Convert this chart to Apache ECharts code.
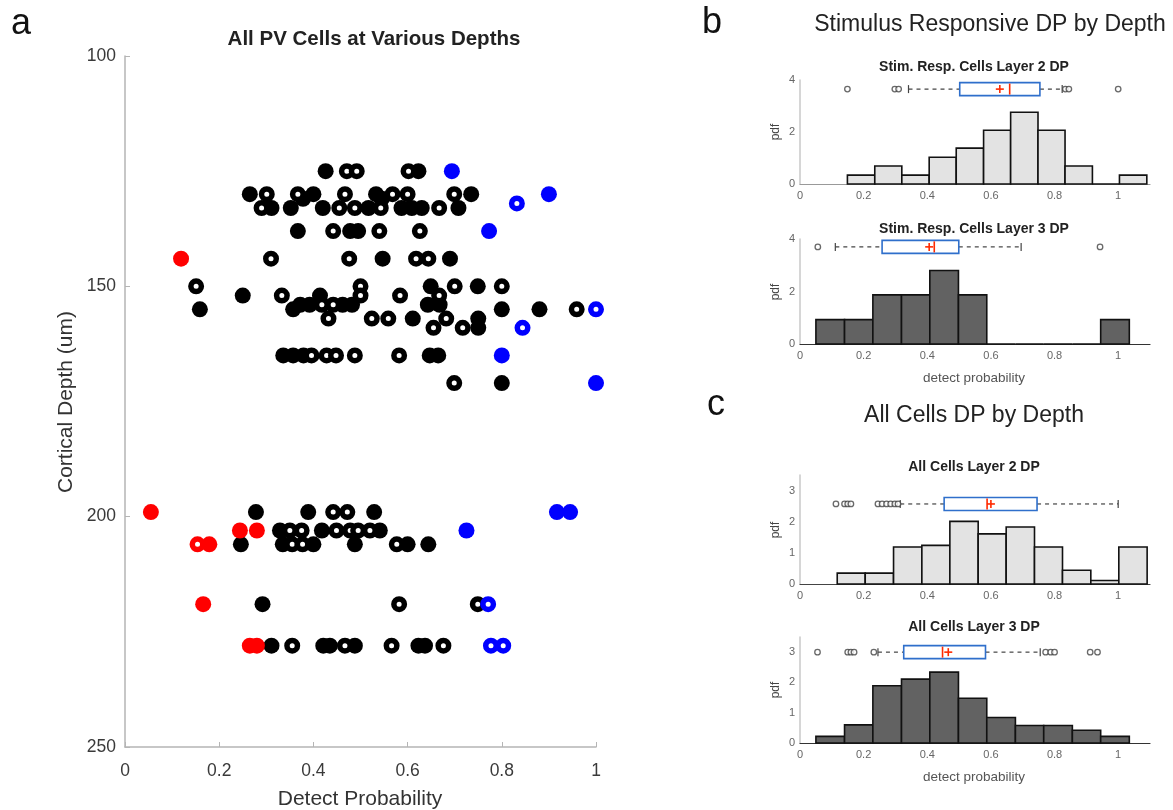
<!DOCTYPE html>
<html><head><meta charset="utf-8">
<script src="https://cdn.jsdelivr.net/npm/echarts@6/dist/echarts.min.js"></script>
<style>html,body{margin:0;padding:0;background:#fff}#c{width:1173px;height:810px}</style>
</head><body><div id="c"></div>
<script>
const FONT = '"Liberation Sans", Arial, sans-serif';

// ---- Panel a: [detect probability, cortical depth (um)] ----
const blackFilled = [
  [0.426,125],[0.623,125],
  [0.265,130],[0.400,130],[0.533,130],[0.735,130],[0.378,131],[0.545,131],
  [0.311,133],[0.352,133],[0.420,133],[0.517,133],[0.587,133],[0.609,133],[0.630,133],[0.708,133],
  [0.367,138],[0.478,138],[0.495,138],
  [0.547,144],[0.690,144],
  [0.649,150],[0.749,150],
  [0.250,152],[0.414,152],
  [0.372,154],[0.392,154],[0.462,154],[0.482,154],[0.643,154],[0.668,154],
  [0.159,155],[0.357,155],[0.800,155],[0.880,155],
  [0.611,157],[0.750,157],
  [0.750,159],
  [0.336,165],[0.357,165],[0.379,165],[0.647,165],[0.665,165],
  [0.800,171],
  [0.278,199],[0.389,199],[0.529,199],
  [0.329,203],[0.418,203],[0.541,203],
  [0.246,206],[0.335,206],[0.400,206],[0.488,206],[0.600,206],[0.644,206],
  [0.292,219],
  [0.311,228],[0.421,228],[0.435,228],[0.488,228],[0.623,228],[0.637,228]
];
const blackOpen = [
  [0.471,125],[0.492,125],[0.602,125],
  [0.301,130],[0.367,130],[0.467,130],[0.568,130],[0.600,130],[0.699,130],
  [0.290,133],[0.455,133],[0.488,133],[0.543,133],[0.667,133],
  [0.442,138],[0.540,138],[0.626,138],
  [0.310,144],[0.476,144],[0.618,144],[0.644,144],
  [0.151,150],[0.500,150],[0.700,150],[0.800,150],
  [0.333,152],[0.500,152],[0.584,152],[0.667,152],
  [0.418,154],[0.442,154],
  [0.959,155],
  [0.432,157],[0.524,157],[0.559,157],[0.682,157],
  [0.655,159],[0.717,159],
  [0.396,165],[0.428,165],[0.448,165],[0.488,165],[0.582,165],
  [0.699,171],
  [0.442,199],[0.472,199],
  [0.350,203],[0.375,203],[0.449,203],[0.478,203],[0.495,203],[0.520,203],
  [0.355,206],[0.377,206],[0.577,206],
  [0.582,219],[0.749,219],
  [0.355,228],[0.467,228],[0.566,228],[0.676,228]
];
const redFilled = [[0.119,144],[0.055,199],[0.244,203],[0.280,203],[0.179,206],[0.166,219],[0.265,228],[0.280,228]];
const redOpen = [[0.154,206]];
const blueFilled = [[0.694,125],[0.900,130],[0.773,138],[0.800,165],[1.000,171],[0.917,199],[0.945,199],[0.725,203]];
const blueOpen = [[0.832,132],[1.000,155],[0.844,159],[0.771,219],[0.777,228],[0.803,228]];

// ---- Panels b / c: histogram bin edges and pdf heights ----
const b1Edges = [0.149,0.235,0.320,0.406,0.491,0.577,0.662,0.748,0.833,0.919,1.004,1.090];
const b1Heights = [0.34,0.69,0.34,1.03,1.38,2.07,2.76,2.07,0.69,0,0.34];
const b2Edges = [0.050,0.140,0.229,0.319,0.408,0.498,0.587,0.677,0.766,0.856,0.945,1.035];
const b2Heights = [0.93,0.93,1.87,1.87,2.80,1.87,0,0,0,0,0.93];
const c1Edges = [0.117,0.205,0.294,0.383,0.471,0.560,0.648,0.737,0.825,0.914,1.002,1.091];
const c1Heights = [0.35,0.35,1.19,1.24,2.01,1.61,1.83,1.19,0.44,0.11,1.19];
const c2Edges = [0.050,0.140,0.229,0.319,0.408,0.498,0.587,0.677,0.766,0.856,0.945,1.035];
const c2Heights = [0.22,0.60,1.89,2.11,2.34,1.48,0.84,0.58,0.58,0.42,0.22];

// box stats: [yPos, whiskerLo, q1, median, q3, whiskerHi, mean]
const b1Box = [3.65, 0.341, 0.502, 0.659, 0.754, 0.824, 0.628];
const b2Box = [3.70, 0.111, 0.258, 0.422, 0.499, 0.695, 0.406];
const c1Box = [2.57, 0.315, 0.453, 0.588, 0.745, 1.000, 0.600];
const c2Box = [3.00, 0.245, 0.326, 0.448, 0.583, 0.755, 0.466];
const b1Out = [0.149, 0.298, 0.310, 0.834, 0.845, 1.000];
const b2Out = [0.056, 0.943];
const c1Out = [0.113, 0.140, 0.150, 0.160, 0.245, 0.258, 0.272, 0.285, 0.298, 0.308];
const c2Out = [0.055, 0.150, 0.160, 0.170, 0.232, 0.772, 0.788, 0.800, 0.912, 0.935];

const yTicksB = [0, 2, 4];
const yTicksC = [0, 1, 2, 3];

const chart = echarts.init(document.getElementById('c'), null, {renderer: 'canvas'});

const grids = [
  {left:125, top:56, width:471, height:691},
  {left:800, top:80, width:350, height:104},
  {left:800, top:239, width:350, height:105},
  {left:800, top:475, width:350, height:109},
  {left:800, top:637, width:350, height:106}
];

function rightX(i, lineColor) {
  return {gridIndex:i, type:'value', min:0, max:1.1, interval:0.2,
    axisLine:{show:true, lineStyle:{color:lineColor, width:1.2}},
    axisTick:{show:false},
    splitLine:{show:false},
    axisLabel:{show:true, fontFamily:FONT, fontSize:11, color:'#666', margin:6,
      formatter: v => (Math.abs(v*5 - Math.round(v*5)) < 1e-6) ? String(+v.toFixed(1)) : ''}};
}
function rightY(i, max, ticks) {
  return {gridIndex:i, type:'value', min:0, max:max, interval:(ticks[1]-ticks[0]),
    axisLine:{show:true, lineStyle:{color:'#c8c8c8', width:1.5}},
    axisTick:{show:false}, splitLine:{show:false},
    axisLabel:{fontFamily:FONT, fontSize:11, color:'#666', margin:5,
      formatter: v => ticks.indexOf(v) >= 0 ? String(v) : ''}};
}

function histSeries(i, edges, heights, color) {
  return {type:'custom', xAxisIndex:i, yAxisIndex:i, silent:true,
    data: heights.map((h, k) => [edges[k], edges[k+1], h]),
    renderItem: (params, api) => {
      const p0 = api.coord([api.value(0), 0]);
      const p1 = api.coord([api.value(1), api.value(2)]);
      return {type:'rect', shape:{x:p0[0], y:p1[1], width:p1[0]-p0[0], height:p0[1]-p1[1]},
        style:{fill:color, stroke:'#111', lineWidth:1.6}};
    }};
}

function boxSeries(i, b) {
  return {type:'custom', xAxisIndex:i, yAxisIndex:i, silent:true, z:5,
    data:[b],
    renderItem: (params, api) => {
      const y = api.value(0);
      const P = k => api.coord([api.value(k), y]);
      const lo=P(1), q1=P(2), med=P(3), q3=P(4), hi=P(5), mn=P(6);
      const cy = lo[1], h = 13, cap = 4, pl = 4;
      const dash = {stroke:'#444', lineWidth:1.2, lineDash:[4,4]};
      const solid = {stroke:'#444', lineWidth:1.2};
      const red = {stroke:'#ff2a00', lineWidth:1.6};
      return {type:'group', children:[
        {type:'line', shape:{x1:lo[0], y1:cy, x2:q1[0], y2:cy}, style:dash},
        {type:'line', shape:{x1:q3[0], y1:cy, x2:hi[0], y2:cy}, style:dash},
        {type:'line', shape:{x1:lo[0], y1:cy-cap, x2:lo[0], y2:cy+cap}, style:solid},
        {type:'line', shape:{x1:hi[0], y1:cy-cap, x2:hi[0], y2:cy+cap}, style:solid},
        {type:'rect', shape:{x:q1[0], y:cy-h/2, width:q3[0]-q1[0], height:h}, style:{fill:'#fff', stroke:'#2f6fcb', lineWidth:1.6}},
        {type:'line', shape:{x1:med[0], y1:cy-h/2+1, x2:med[0], y2:cy+h/2-1}, style:red},
        {type:'line', shape:{x1:mn[0]-pl, y1:cy, x2:mn[0]+pl, y2:cy}, style:red},
        {type:'line', shape:{x1:mn[0], y1:cy-pl, x2:mn[0], y2:cy+pl}, style:red}
      ]};
    }};
}

function outlierSeries(i, vals, yPos) {
  return {type:'scatter', xAxisIndex:i, yAxisIndex:i, silent:true, z:6,
    symbol:'circle', symbolSize:5.5,
    itemStyle:{color:'#fff', borderColor:'#444', borderWidth:1.3},
    data: vals.map(v => [v, yPos])};
}

function filledSeries(data, color) {
  return {type:'scatter', xAxisIndex:0, yAxisIndex:0, silent:true, symbol:'circle', symbolSize:16,
    itemStyle:{color:color, opacity:1}, data:data};
}
function openSeries(data, color) {
  return {type:'scatter', xAxisIndex:0, yAxisIndex:0, silent:true, symbol:'circle', symbolSize:10.5,
    itemStyle:{color:'#fff', borderColor:color, borderWidth:5.5, opacity:1}, data:data};
}

function txt(x, y, text, font, color, rot) {
  return {type:'text', x:x, y:y, rotation: rot || 0, silent:true,
    style:{text:text, font:font, fill:color || '#222', textAlign:'center', textVerticalAlign:'middle'}};
}

const option = {
  backgroundColor:'#fff',
  animation:false,
  grid: grids,
  xAxis: [
    {gridIndex:0, type:'value', min:0, max:1, interval:0.2,
      axisLine:{show:true, lineStyle:{color:'#b5b5b5', width:1.5}},
      axisTick:{show:true, inside:true, length:5, lineStyle:{color:'#b5b5b5'}},
      splitLine:{show:false},
      axisLabel:{fontFamily:FONT, fontSize:17.5, color:'#3a3a3a', margin:15}},
    rightX(1, '#999'),
    rightX(2, '#333'),
    rightX(3, '#444'),
    rightX(4, '#333')
  ],
  yAxis: [
    {gridIndex:0, type:'value', min:100, max:250, interval:50, inverse:true,
      axisLine:{show:true, lineStyle:{color:'#b5b5b5', width:1.5}},
      axisTick:{show:true, inside:true, length:5, lineStyle:{color:'#b5b5b5'}},
      splitLine:{show:false},
      axisLabel:{fontFamily:FONT, fontSize:17.5, color:'#3a3a3a', margin:9}},
    rightY(1, 4, yTicksB),
    rightY(2, 4, yTicksB),
    rightY(3, 3.5, yTicksC),
    rightY(4, 3.5, yTicksC)
  ],
  series: [
    filledSeries(blackFilled, '#000'),
    openSeries(blackOpen, '#000'),
    filledSeries(redFilled, '#ff0000'),
    openSeries(redOpen, '#ff0000'),
    filledSeries(blueFilled, '#0000ff'),
    openSeries(blueOpen, '#0000ff'),
    histSeries(1, b1Edges, b1Heights, '#e3e3e3'),
    histSeries(2, b2Edges, b2Heights, '#626262'),
    histSeries(3, c1Edges, c1Heights, '#e3e3e3'),
    histSeries(4, c2Edges, c2Heights, '#626262'),
    boxSeries(1, b1Box), boxSeries(2, b2Box), boxSeries(3, c1Box), boxSeries(4, c2Box),
    outlierSeries(1, b1Out, b1Box[0]),
    outlierSeries(2, b2Out, b2Box[0]),
    outlierSeries(3, c1Out, c1Box[0]),
    outlierSeries(4, c2Out, c2Box[0])
  ],
  graphic: [
    txt(21, 24, 'a', '36px ' + FONT, '#111'),
    txt(712, 23, 'b', '36px ' + FONT, '#111'),
    txt(716, 405, 'c', '36px ' + FONT, '#111'),
    txt(374, 39, 'All PV Cells at Various Depths', 'bold 20.5px ' + FONT, '#222'),
    txt(66, 402, 'Cortical Depth (um)', '21px ' + FONT, '#333', Math.PI/2),
    txt(360, 799, 'Detect Probability', '21px ' + FONT, '#333'),
    txt(990, 25, 'Stimulus Responsive DP by Depth', '23px ' + FONT, '#222'),
    txt(974, 416, 'All Cells DP by Depth', '23px ' + FONT, '#222'),
    txt(974, 67, 'Stim. Resp. Cells Layer 2 DP', 'bold 14px ' + FONT, '#222'),
    txt(974, 229, 'Stim. Resp. Cells Layer 3 DP', 'bold 14px ' + FONT, '#222'),
    txt(974, 467, 'All Cells Layer 2 DP', 'bold 14px ' + FONT, '#222'),
    txt(974, 627, 'All Cells Layer 3 DP', 'bold 14px ' + FONT, '#222'),
    txt(776, 132, 'pdf', '12px ' + FONT, '#444', Math.PI/2),
    txt(776, 292, 'pdf', '12px ' + FONT, '#444', Math.PI/2),
    txt(776, 530, 'pdf', '12px ' + FONT, '#444', Math.PI/2),
    txt(776, 690, 'pdf', '12px ' + FONT, '#444', Math.PI/2),
    txt(974, 378, 'detect probability', '13.5px ' + FONT, '#555'),
    txt(974, 777, 'detect probability', '13.5px ' + FONT, '#555')
  ]
};
chart.setOption(option);
</script>
</body></html>
